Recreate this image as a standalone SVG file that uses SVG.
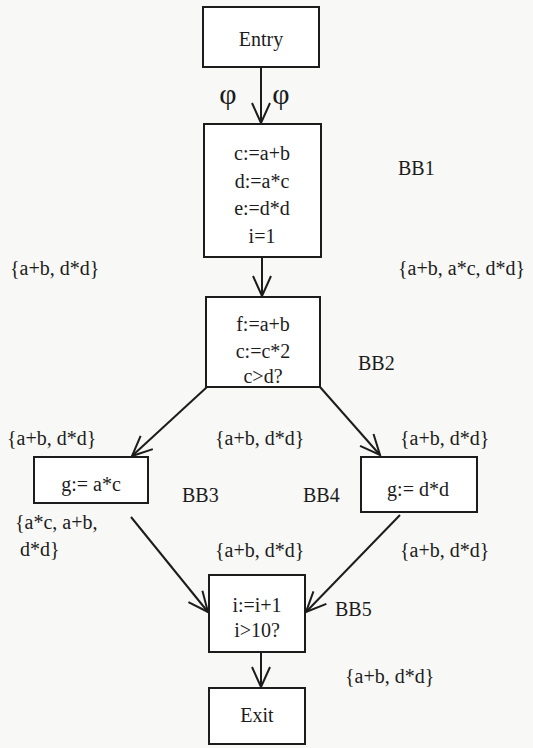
<svg xmlns="http://www.w3.org/2000/svg" width="533" height="748" viewBox="0 0 533 748" font-family="'Liberation Serif', 'DejaVu Serif', 'Times New Roman', serif">
  <style>
    text { font-family: "Liberation Serif", "DejaVu Serif", "Times New Roman", serif; font-size: 20px; fill: #1c1c1c; }
    .mid { text-anchor: middle; }
    .phi { font-size: 30px; }
    .box { fill: #ffffff; stroke: #1c1c1c; stroke-width: 2; }
    .edge { fill: none; stroke: #1c1c1c; stroke-width: 2; }
  </style>
  <defs>
    <marker id="open" viewBox="-22 -12 24 24" refX="0" refY="0" markerWidth="24" markerHeight="24" markerUnits="userSpaceOnUse" orient="auto">
      <path d="M-20,-9 L0,0 L-20,9" fill="none" stroke="#1c1c1c" stroke-width="2"/>
    </marker>
  </defs>
  <rect width="533" height="748" fill="#f8f8f6"/>

  <g id="edges">
    <line class="edge" x1="261" y1="67" x2="261" y2="123" marker-end="url(#open)"/>
    <line class="edge" x1="262" y1="257" x2="262" y2="296" marker-end="url(#open)"/>
    <line class="edge" x1="207" y1="387" x2="132" y2="456" marker-end="url(#open)"/>
    <line class="edge" x1="320" y1="387" x2="380" y2="455" marker-end="url(#open)"/>
    <line class="edge" x1="131" y1="517" x2="208" y2="612" marker-end="url(#open)"/>
    <line class="edge" x1="400" y1="515" x2="306" y2="612" marker-end="url(#open)"/>
    <line class="edge" x1="261" y1="652" x2="261" y2="687" marker-end="url(#open)"/>
  </g>

  <g id="entry">
    <rect class="box" x="203" y="7" width="116" height="60"/>
    <text class="mid" x="261" y="46">Entry</text>
  </g>

  <g id="phi">
    <text class="mid phi" x="228" y="104">φ</text>
    <text class="mid phi" x="281" y="104">φ</text>
  </g>

  <g id="bb1">
    <rect class="box" x="204" y="124" width="117" height="133"/>
    <text class="mid" x="262" y="160">c:=a+b</text>
    <text class="mid" x="262" y="188">d:=a*c</text>
    <text class="mid" x="262" y="215">e:=d*d</text>
    <text class="mid" x="262" y="243">i=1</text>
    <text x="398" y="175">BB1</text>
  </g>

  <g id="bb2">
    <rect class="box" x="206" y="297" width="114" height="90"/>
    <text class="mid" x="263" y="331">f:=a+b</text>
    <text class="mid" x="263" y="358">c:=c*2</text>
    <text class="mid" x="263" y="383">c&gt;d?</text>
    <text x="358" y="370">BB2</text>
  </g>

  <g id="bb3">
    <rect class="box" x="34" y="457" width="114" height="46"/>
    <text class="mid" x="91" y="491">g:= a*c</text>
    <text x="182" y="502">BB3</text>
  </g>

  <g id="bb4">
    <rect class="box" x="361" y="457" width="116" height="55"/>
    <text class="mid" x="418" y="496">g:= d*d</text>
    <text x="303" y="502">BB4</text>
  </g>

  <g id="bb5">
    <rect class="box" x="209" y="575" width="96" height="77"/>
    <text class="mid" x="257" y="612">i:=i+1</text>
    <text class="mid" x="257" y="637">i&gt;10?</text>
    <text x="335" y="616">BB5</text>
  </g>

  <g id="exit">
    <rect class="box" x="209" y="688" width="96" height="56"/>
    <text class="mid" x="257" y="722">Exit</text>
  </g>

  <g id="sets">
    <text x="10" y="275">{a+b, d*d}</text>
    <text x="398" y="275">{a+b, a*c, d*d}</text>
    <text x="7" y="445">{a+b, d*d}</text>
    <text x="215" y="445">{a+b, d*d}</text>
    <text x="400" y="445">{a+b, d*d}</text>
    <text x="15" y="529">{a*c, a+b,</text>
    <text x="20" y="556">d*d}</text>
    <text x="215" y="557">{a+b, d*d}</text>
    <text x="400" y="557">{a+b, d*d}</text>
    <text x="345" y="683">{a+b, d*d}</text>
  </g>
</svg>
